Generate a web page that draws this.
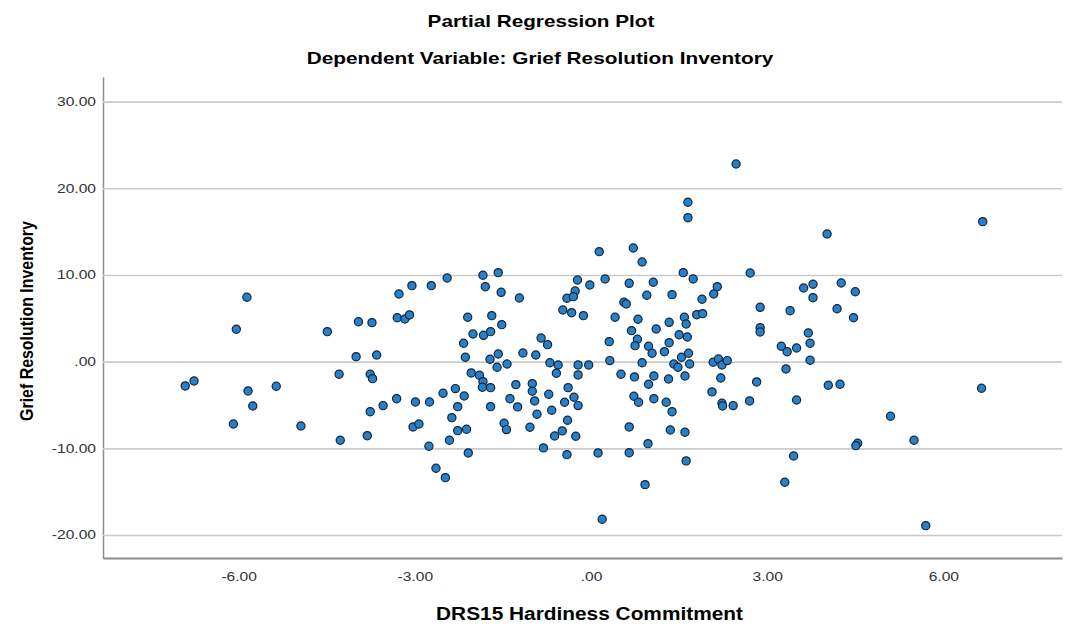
<!DOCTYPE html>
<html>
<head>
<meta charset="utf-8">
<script src="https://cdn.jsdelivr.net/npm/d3@7"></script>
<style>
  body { margin: 0; background: #fff; }
  text { font-family: 'Liberation Sans', Arial, sans-serif; }
</style>
</head>
<body>
<div id="chart"></div>
<script>
// partial regression residuals
const hardiness = [
  -5.86, -6.04, -4.49, -3.96, -4.00, -6.91, -6.76, -5.84, -5.36, -5.76,
  -6.09, -4.94, -4.29, -4.27, -3.73, -3.27, -3.05, -2.72, -2.45, -3.30,
  -3.17, -3.09, -1.84, -1.58, -1.80, -1.53, -1.22, -2.10, -1.69, -1.52,
  -2.01, -1.83, -1.71, -2.17, -0.85, -0.74, -3.65, -2.14, -1.72, -1.58,
  -1.60, -1.43, -1.16, -0.94, -0.70, -0.56, -0.59, -3.76, -3.72, -2.04,
  -1.90, -1.84, -1.85, -1.71, -1.28, -1.00, -1.00, -0.72, -3.31, -2.99,
  -2.75, -2.52, -2.31, -2.16, -2.27, -3.54, -3.76, -1.71, -1.38, -1.25,
  -0.96, -0.92, -0.67, -2.37, -3.03, -2.93, -2.27, -2.12, -1.48, -1.44,
  -1.04, -0.62, -3.81, -2.76, -2.41, -2.09, -0.81, -2.64, -2.48, 2.47,
  1.65, 1.65, 0.14, 0.72, 0.87, 1.57, 1.74, -0.23, -0.02, 0.24,
  0.65, 1.06, 0.95, 1.38, 2.15, 2.09, 1.89, -0.27, -0.41, -0.30,
  -0.48, -0.33, -0.13, 0.41, 0.56, 0.60, 0.80, 0.69, 1.11, 1.33,
  1.59, 1.62, 1.80, 1.90, 1.50, 1.64, 0.79, 0.75, 0.98, 1.33,
  0.31, -0.49, -0.22, -0.04, -0.22, 0.32, 1.04, 1.25, 0.87, 0.51,
  0.74, 1.07, 0.98, 1.32, 1.41, 1.48, 1.54, 1.66, 1.68, 1.60,
  2.08, 2.17, 2.23, 2.32, 2.21, 2.06, 2.23, 2.24, 2.42, -0.39,
  -0.45, -0.29, -0.22, -0.40, -0.26, -0.41, 0.12, 0.73, 0.81, 1.07,
  1.28, 1.38, 0.65, 1.35, 1.60, 0.97, 0.65, 1.62, 0.92, 0.19,
  6.67, 4.02, 2.71, 3.62, 3.78, 4.26, 4.50, 3.78, 2.88, 3.39,
  4.19, 4.47, 2.88, 2.88, 3.70, 3.73, 3.24, 3.50, 3.34, 3.73,
  3.32, 2.82, 2.70, 3.50, 4.04, 4.24, 6.65, 5.10, 4.54, 4.51,
  5.50, 3.45, 3.30, 5.70
]

const grief = [
  7.43, 3.74, 3.46, 4.61, 0.58, -2.80, -2.23, -3.38, -2.84, -5.11,
  -7.19, -7.42, -1.45, -9.07, 4.50, 7.81, 8.77, 8.77, 9.65, 5.07,
  4.92, 5.39, 9.97, 10.27, 8.65, 8.00, 7.35, 5.12, 5.31, 4.27,
  3.19, 3.04, 3.46, 2.12, 2.73, 1.96, 0.77, 0.51, 0.28, 0.89,
  -0.65, -0.27, 1.00, 0.77, -0.12, -0.38, -1.34, -1.45, -1.96, -1.30,
  -1.57, -2.31, -2.95, -3.00, -2.65, -2.54, -3.41, -3.76, -4.27, -4.65,
  -4.65, -3.64, -3.11, -3.96, -5.19, -5.07, -5.77, -5.19, -4.27, -5.22,
  -4.53, -6.07, -5.61, -6.46, -7.53, -7.19, -7.96, -7.80, -7.11, -7.84,
  -7.57, -8.57, -8.54, -9.76, -9.07, -10.53, -9.95, -12.30, -13.38, 22.80,
  18.39, 16.61, 12.69, 13.11, 11.50, 10.27, 9.54, 9.42, 8.85, 9.54,
  9.04, 9.16, 7.66, 7.73, 8.65, 7.81, 7.20, 8.15, 7.31, 7.50,
  5.96, 5.65, 5.31, 5.12, 6.85, 6.66, 4.89, 3.58, 3.77, 4.54,
  5.12, 4.35, 5.42, 5.54, 3.11, 2.85, 2.58, 1.85, 1.78, 2.19,
  2.31, -7.99, -0.38, -0.38, -1.53, 0.12, 0.97, 1.15, -0.12, -1.45,
  -1.76, -1.65, -2.61, -2.00, -0.27, -0.65, 0.51, 0.97, -0.27, -1.65,
  -0.07, 0.31, -0.38, 0.12, -1.88, -3.49, -4.80, -5.11, -5.07, -3.00,
  -4.68, -4.11, -5.07, -6.76, -8.60, -10.73, -10.53, -3.99, -4.68, -4.27,
  -4.68, -5.77, -7.53, -7.88, -8.14, -9.46, -10.50, -11.45, -14.19, -18.18,
  16.15, 14.73, 10.23, 8.50, 8.93, 9.08, 8.07, 7.38, 6.27, 5.88,
  6.11, 5.07, 3.92, 3.43, 3.31, 2.12, 1.78, 1.58, 1.15, 0.16,
  -0.84, -2.34, -4.53, -4.42, -2.72, -2.61, -3.07, -6.30, -9.41, -9.69,
  -9.07, -10.88, -13.91, -18.92
]

const xTicks = [-6, -3, 0, 3, 6]
const yTicks = [-20, -10, 0, 10, 20, 30]

const width = 1075
const height = 629
const plot = { left: 103, right: 1062, top: 77, bottom: 558 }
const squeeze = 1.3 // text in the source is drawn wide

const points = hardiness.map((d, i) => ({ x: d, y: grief[i] }))

const svg = d3
  .select('#chart')
  .append('svg')
  .attr('width', width)
  .attr('height', height)

const xPositionScale = d3
  .scaleLinear()
  .domain([-8.31, 8.02])
  .range([plot.left, plot.right])

const yPositionScale = d3
  .scaleLinear()
  .domain([-22.65, 32.84])
  .range([plot.bottom, plot.top])

// SPSS style: ".00", plain hyphen for negatives
const fmt = d => (d === 0 ? '.00' : d.toFixed(2))

// y axis + gridlines
const yAxis = d3
  .axisLeft(yPositionScale)
  .tickValues(yTicks)
  .tickFormat(fmt)
  .tickSizeInner(-(plot.right - plot.left))
  .tickSizeOuter(0)
  .tickPadding(7)

svg
  .append('g')
  .attr('class', 'axis y-axis')
  .attr('transform', 'translate(' + plot.left + ',0)')
  .call(yAxis)
  .call(g => g.select('.domain').attr('stroke', '#8c8c8c').attr('stroke-width', 1.5))
  .call(g => g.selectAll('.tick line').attr('stroke', '#cacaca').attr('stroke-width', 1.6))
  .call(g =>
    g
      .selectAll('.tick text')
      .attr('x', -7 / squeeze)
      .attr('transform', 'scale(' + squeeze + ',1)')
      .attr('font-size', 12)
      .attr('fill', '#333')
  )

// x axis
const xAxis = d3
  .axisBottom(xPositionScale)
  .tickValues(xTicks)
  .tickFormat(fmt)
  .tickSize(0)
  .tickPadding(14)

svg
  .append('g')
  .attr('class', 'axis x-axis')
  .attr('transform', 'translate(0,' + plot.bottom + ')')
  .call(xAxis)
  .call(g => g.select('.domain').attr('stroke', '#8c8c8c').attr('stroke-width', 2))
  .call(g =>
    g
      .selectAll('.tick text')
      .attr('transform', 'scale(' + squeeze + ',1)')
      .attr('font-size', 12)
      .attr('fill', '#333')
  )

// dots
svg
  .append('g')
  .selectAll('circle')
  .data(points)
  .enter()
  .append('circle')
  .attr('cx', d => xPositionScale(d.x))
  .attr('cy', d => yPositionScale(d.y))
  .attr('r', 4.1)
  .attr('fill', '#2780c8')
  .attr('stroke', '#13253a')
  .attr('stroke-width', 1.2)

// titles, stretched/squeezed to the widths in the source
function wideText(x, y, label, size, targetWidth, rotate) {
  const g = svg.append('g')
  const t = g
    .append('text')
    .text(label)
    .attr('text-anchor', 'middle')
    .attr('font-size', size)
    .attr('font-weight', 700)
    .attr('fill', '#000')
  const sx = targetWidth / t.node().getComputedTextLength()
  if (rotate) {
    t.attr('transform', 'scale(' + sx + ',1)')
    g.attr('transform', 'translate(' + x + ',' + y + ') rotate(-90)')
  } else {
    g.attr('transform', 'translate(' + x + ',' + y + ') scale(' + sx + ',1)')
  }
}

wideText(541, 27, 'Partial Regression Plot', 16, 227)
wideText(540, 64, 'Dependent Variable: Grief Resolution Inventory', 16, 467)
wideText(589.5, 620, 'DRS15 Hardiness Commitment', 19, 307)
wideText(33, 321, 'Grief Resolution Inventory', 19, 200, true)
</script>
</body>
</html>
